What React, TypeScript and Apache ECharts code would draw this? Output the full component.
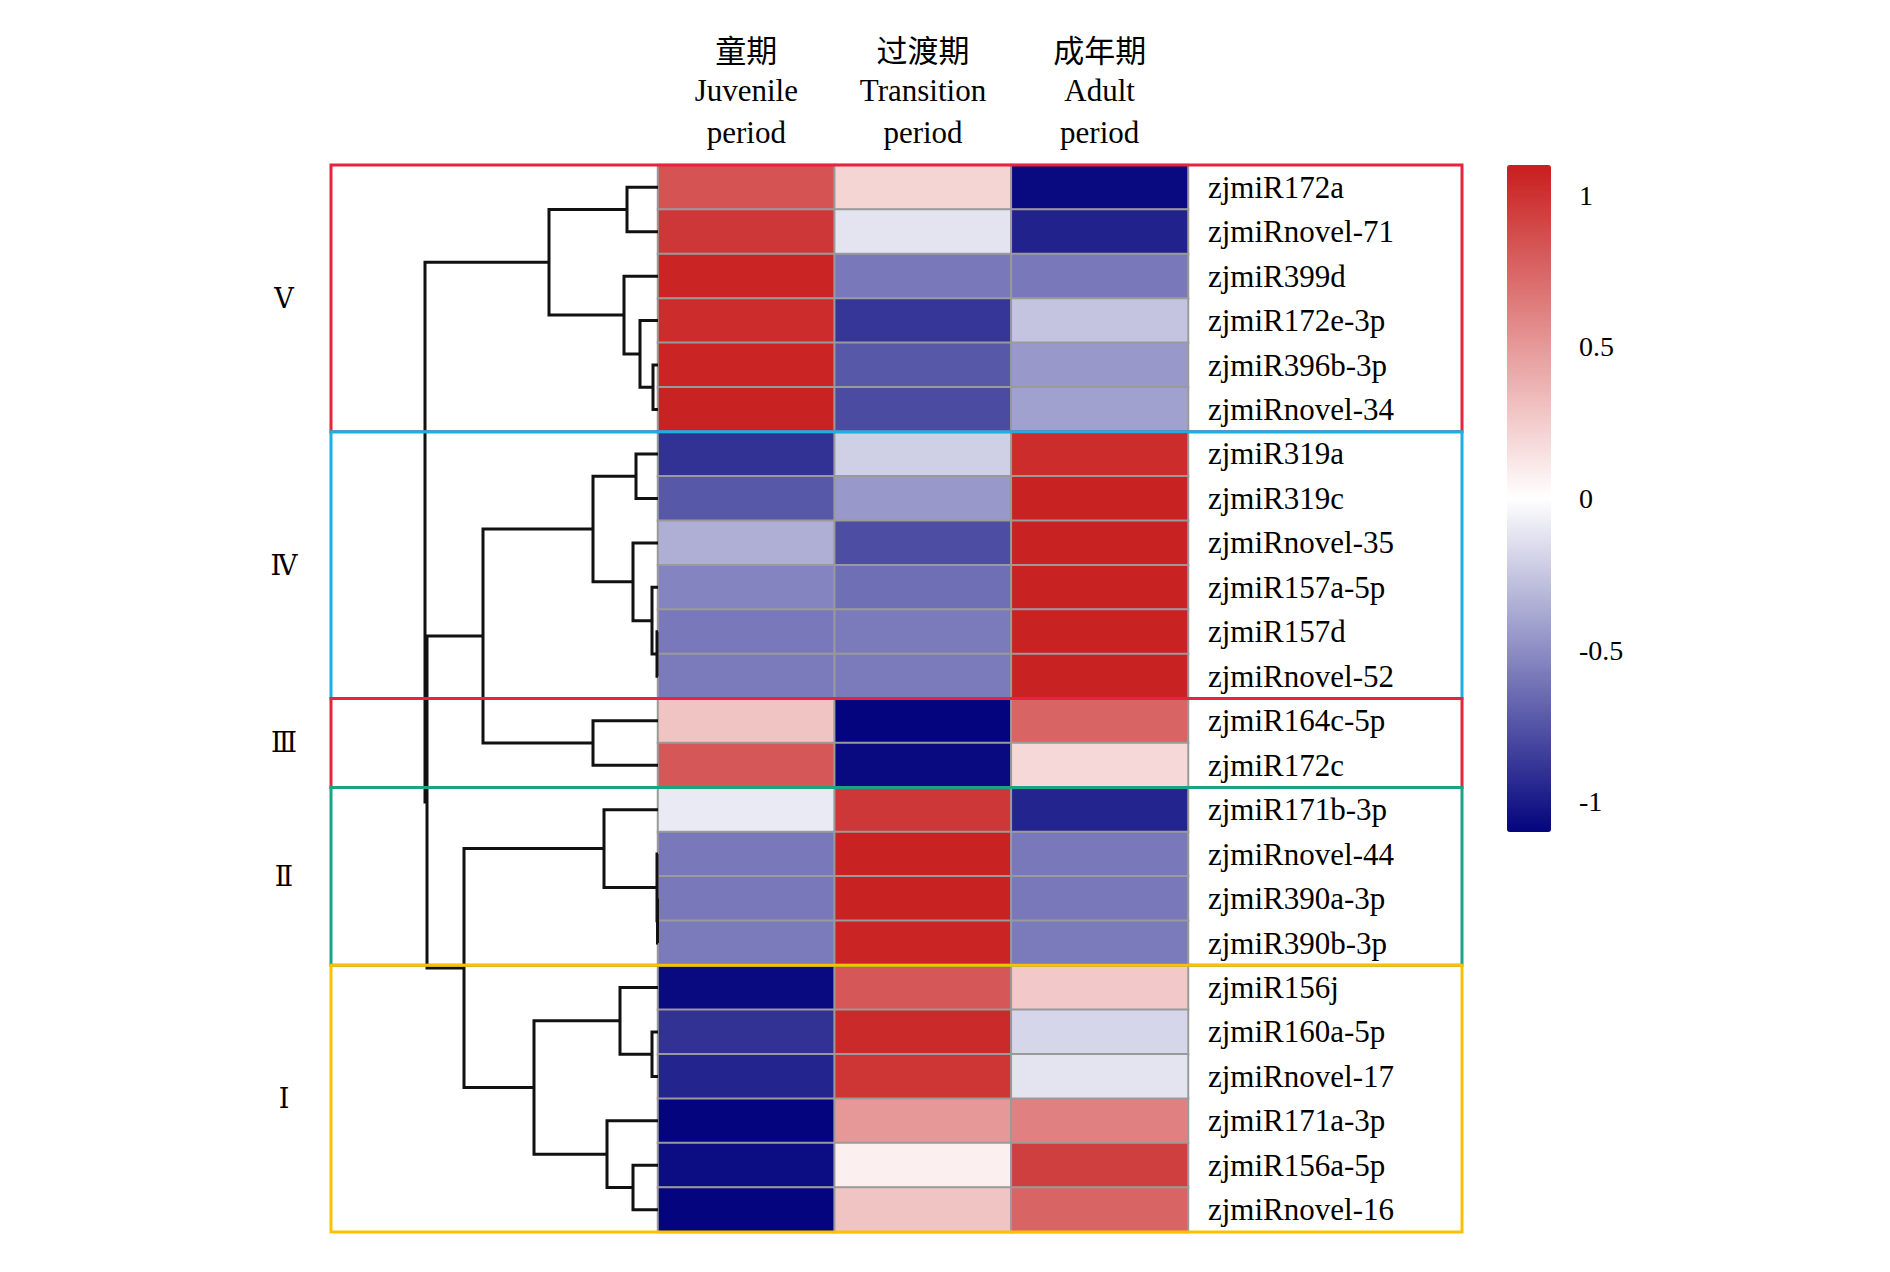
import React, { useEffect, useRef } from 'react';
import * as echarts from 'echarts';

// Column headers
const periodsCn = ['童期', '过渡期', '成年期'];
const periodsEn = ['Juvenile', 'Transition', 'Adult'];

// Row labels (top to bottom)
const mirnas = [
  'zjmiR172a', 'zjmiRnovel-71', 'zjmiR399d', 'zjmiR172e-3p', 'zjmiR396b-3p', 'zjmiRnovel-34',
  'zjmiR319a', 'zjmiR319c', 'zjmiRnovel-35', 'zjmiR157a-5p', 'zjmiR157d', 'zjmiRnovel-52',
  'zjmiR164c-5p', 'zjmiR172c',
  'zjmiR171b-3p', 'zjmiRnovel-44', 'zjmiR390a-3p', 'zjmiR390b-3p',
  'zjmiR156j', 'zjmiR160a-5p', 'zjmiRnovel-17', 'zjmiR171a-3p', 'zjmiR156a-5p', 'zjmiRnovel-16',
];

// Scaled expression values per period
const juvenile = [
  0.84, 0.98, 1.07, 1.03, 1.07, 1.08,
  -0.90, -0.73, -0.35, -0.54, -0.59, -0.58,
  0.29, 0.82,
  -0.09, -0.59, -0.59, -0.58,
  -1.08, -0.90, -0.96, -1.10, -1.06, -1.10,
];
const transition = [
  0.21, -0.12, -0.59, -0.88, -0.73, -0.79,
  -0.21, -0.45, -0.78, -0.63, -0.58, -0.58,
  -1.10, -1.08,
  0.98, 1.08, 1.08, 1.07,
  0.82, 1.04, 0.99, 0.51, 0.08, 0.29,
];
const adult = [
  -1.08, -0.97, -0.59, -0.26, -0.45, -0.41,
  1.03, 1.08, 1.08, 1.08, 1.08, 1.08,
  0.76, 0.19,
  -0.96, -0.59, -0.59, -0.58,
  0.27, -0.18, -0.12, 0.62, 0.94, 0.76,
];

// Hierarchical clustering (linkage): [childA, childB, height]; leaves 0..23, merges 24..
const linkage: [number, number, number][] = [
  [0, 1, 31],    // 24
  [4, 5, 5],     // 25
  [3, 25, 18],   // 26
  [2, 26, 34],   // 27
  [24, 27, 109], // 28  cluster V
  [6, 7, 22],    // 29
  [10, 11, 1],   // 30
  [9, 30, 6],    // 31
  [8, 31, 25],   // 32
  [29, 32, 65],  // 33  cluster IV
  [12, 13, 65],  // 34  cluster III
  [33, 34, 175], // 35
  [16, 17, 0.5], // 36
  [15, 36, 1],   // 37
  [14, 37, 54],  // 38  cluster II
  [19, 20, 6],   // 39
  [18, 39, 38],  // 40
  [22, 23, 25],  // 41
  [21, 41, 51],  // 42
  [40, 42, 124], // 43  cluster I
  [38, 43, 194], // 44
  [35, 44, 231], // 45
  [28, 45, 233], // 46 root
];

// Clusters
const groupNames = ['Ⅴ', 'Ⅳ', 'Ⅲ', 'Ⅱ', 'Ⅰ'];
const groupStart = [0, 6, 12, 14, 18];
const groupEnd = [5, 11, 13, 17, 23];
const groupColors = ['#e8233f', '#1ab0e6', '#e8233f', '#18a585', '#fbc100'];

// Colour bar
const colorTicks = [1, 0.5, 0, -0.5, -1];
const colorMin = -1.1;
const colorMax = 1.1;

const SERIF = '"Liberation Serif", "Times New Roman", serif';

export default function App() {
  const ref = useRef<HTMLDivElement>(null);

  useEffect(() => {
    const chart = echarts.init(ref.current!, null, { renderer: 'svg' });

    const heatData: number[][] = [];
    [juvenile, transition, adult].forEach((arr, c) =>
      arr.forEach((v, r) => heatData.push([c, r, v]))
    );

    const nodeY: number[] = mirnas.map((_, i) => i);
    const nodeH: number[] = mirnas.map(() => 0);
    const dendroData = linkage.map(([a, b, h]) => {
      const item = [nodeH[a], nodeY[a], nodeH[b], nodeY[b], h];
      nodeY.push((nodeY[a] + nodeY[b]) / 2);
      nodeH.push(h);
      return item;
    });

    const groupData = groupNames.map((_, i) => [groupStart[i], groupEnd[i], i]);

    const headerLabels = periodsCn.map((cn, i) => `{cn|${cn}}\n${periodsEn[i]}\nperiod`);

    const rowsMax = mirnas.length - 0.5;

    chart.setOption({
      animation: false,
      backgroundColor: '#ffffff',
      grid: [
        { left: 658, top: 165, width: 530, height: 1067 },
        { left: 331, top: 165, width: 327, height: 1067 },
        { left: 331, top: 165, width: 1131, height: 1067 },
        { left: 1507, top: 165, width: 44, height: 667 },
      ],
      xAxis: [
        {
          type: 'category', gridIndex: 0, data: headerLabels, position: 'top',
          axisLine: { show: false }, axisTick: { show: false }, splitLine: { show: false },
          axisLabel: {
            interval: 0, margin: 12, color: '#000', fontSize: 31, lineHeight: 42, fontFamily: SERIF,
            rich: { cn: { fontFamily: '"Noto Sans CJK SC", sans-serif', fontSize: 31, lineHeight: 42, color: '#000' } },
          },
        },
        { type: 'value', gridIndex: 1, min: 0, max: 327, inverse: true, show: false },
        { type: 'value', gridIndex: 2, min: 0, max: 1, show: false },
        { type: 'value', gridIndex: 3, min: 0, max: 1, show: false },
      ],
      yAxis: [
        {
          type: 'category', gridIndex: 0, data: mirnas, inverse: true, position: 'right',
          axisLine: { show: false }, axisTick: { show: false }, splitLine: { show: false },
          axisLabel: { interval: 0, margin: 20, color: '#000', fontSize: 31, fontFamily: SERIF },
        },
        { type: 'value', gridIndex: 1, min: -0.5, max: rowsMax, inverse: true, show: false },
        { type: 'value', gridIndex: 2, min: -0.5, max: rowsMax, inverse: true, show: false },
        {
          type: 'value', gridIndex: 3, min: colorMin, max: colorMax, position: 'right',
          axisLine: { show: false }, axisTick: { show: false }, splitLine: { show: false },
          axisLabel: {
            customValues: colorTicks, margin: 28, color: '#000', fontSize: 28, fontFamily: SERIF,
            formatter: (v: number) => String(v),
          },
        },
      ],
      visualMap: {
        type: 'continuous',
        seriesIndex: 0,
        dimension: 2,
        min: colorMin,
        max: colorMax,
        calculable: false,
        hoverLink: false,
        orient: 'vertical',
        left: 1507,
        top: 165,
        padding: 0,
        itemWidth: 44,
        itemHeight: 667,
        text: ['', ''],
        showLabel: false,
        inRange: { color: ['#04047e', '#ffffff', '#c81e1e'] },
      },
      series: [
        {
          type: 'heatmap',
          xAxisIndex: 0,
          yAxisIndex: 0,
          data: heatData,
          itemStyle: { borderColor: '#9a9a9a', borderWidth: 2 },
          emphasis: { disabled: true },
          z: 2,
        },
        {
          type: 'custom',
          xAxisIndex: 1,
          yAxisIndex: 1,
          data: dendroData,
          silent: true,
          z: 4,
          renderItem: (_params: any, api: any) => {
            const ha = api.value(0), ya = api.value(1), hb = api.value(2), yb = api.value(3), h = api.value(4);
            const pts = [
              api.coord([ha, ya]),
              api.coord([h, ya]),
              api.coord([h, yb]),
              api.coord([hb, yb]),
            ];
            return {
              type: 'polyline',
              shape: { points: pts },
              style: { stroke: '#111', lineWidth: 3, fill: 'none', lineJoin: 'miter' },
            };
          },
        },
        {
          type: 'custom',
          xAxisIndex: 2,
          yAxisIndex: 2,
          data: groupData,
          silent: true,
          z: 5,
          renderItem: (_params: any, api: any) => {
            const s = api.value(0), e = api.value(1), idx = api.value(2);
            const p0 = api.coord([0, s - 0.5]);
            const p1 = api.coord([1, e + 0.5]);
            return {
              type: 'group',
              children: [
                {
                  type: 'rect',
                  shape: { x: p0[0], y: p0[1], width: p1[0] - p0[0], height: p1[1] - p0[1] },
                  style: { fill: 'none', stroke: groupColors[idx], lineWidth: 3 },
                },
                {
                  type: 'text',
                  style: {
                    text: groupNames[idx],
                    x: p0[0] - 47,
                    y: (p0[1] + p1[1]) / 2,
                    align: 'center',
                    verticalAlign: 'middle',
                    fontSize: 27,
                    fontFamily: '"DejaVu Serif", serif',
                    fill: '#000',
                  },
                },
              ],
            };
          },
        },
      ],
    });

    return () => chart.dispose();
  }, []);

  return (
    <div
      ref={ref}
      style={{ position: 'absolute', left: 0, top: 0, width: 1890, height: 1272, background: '#fff' }}
    />
  );
}
